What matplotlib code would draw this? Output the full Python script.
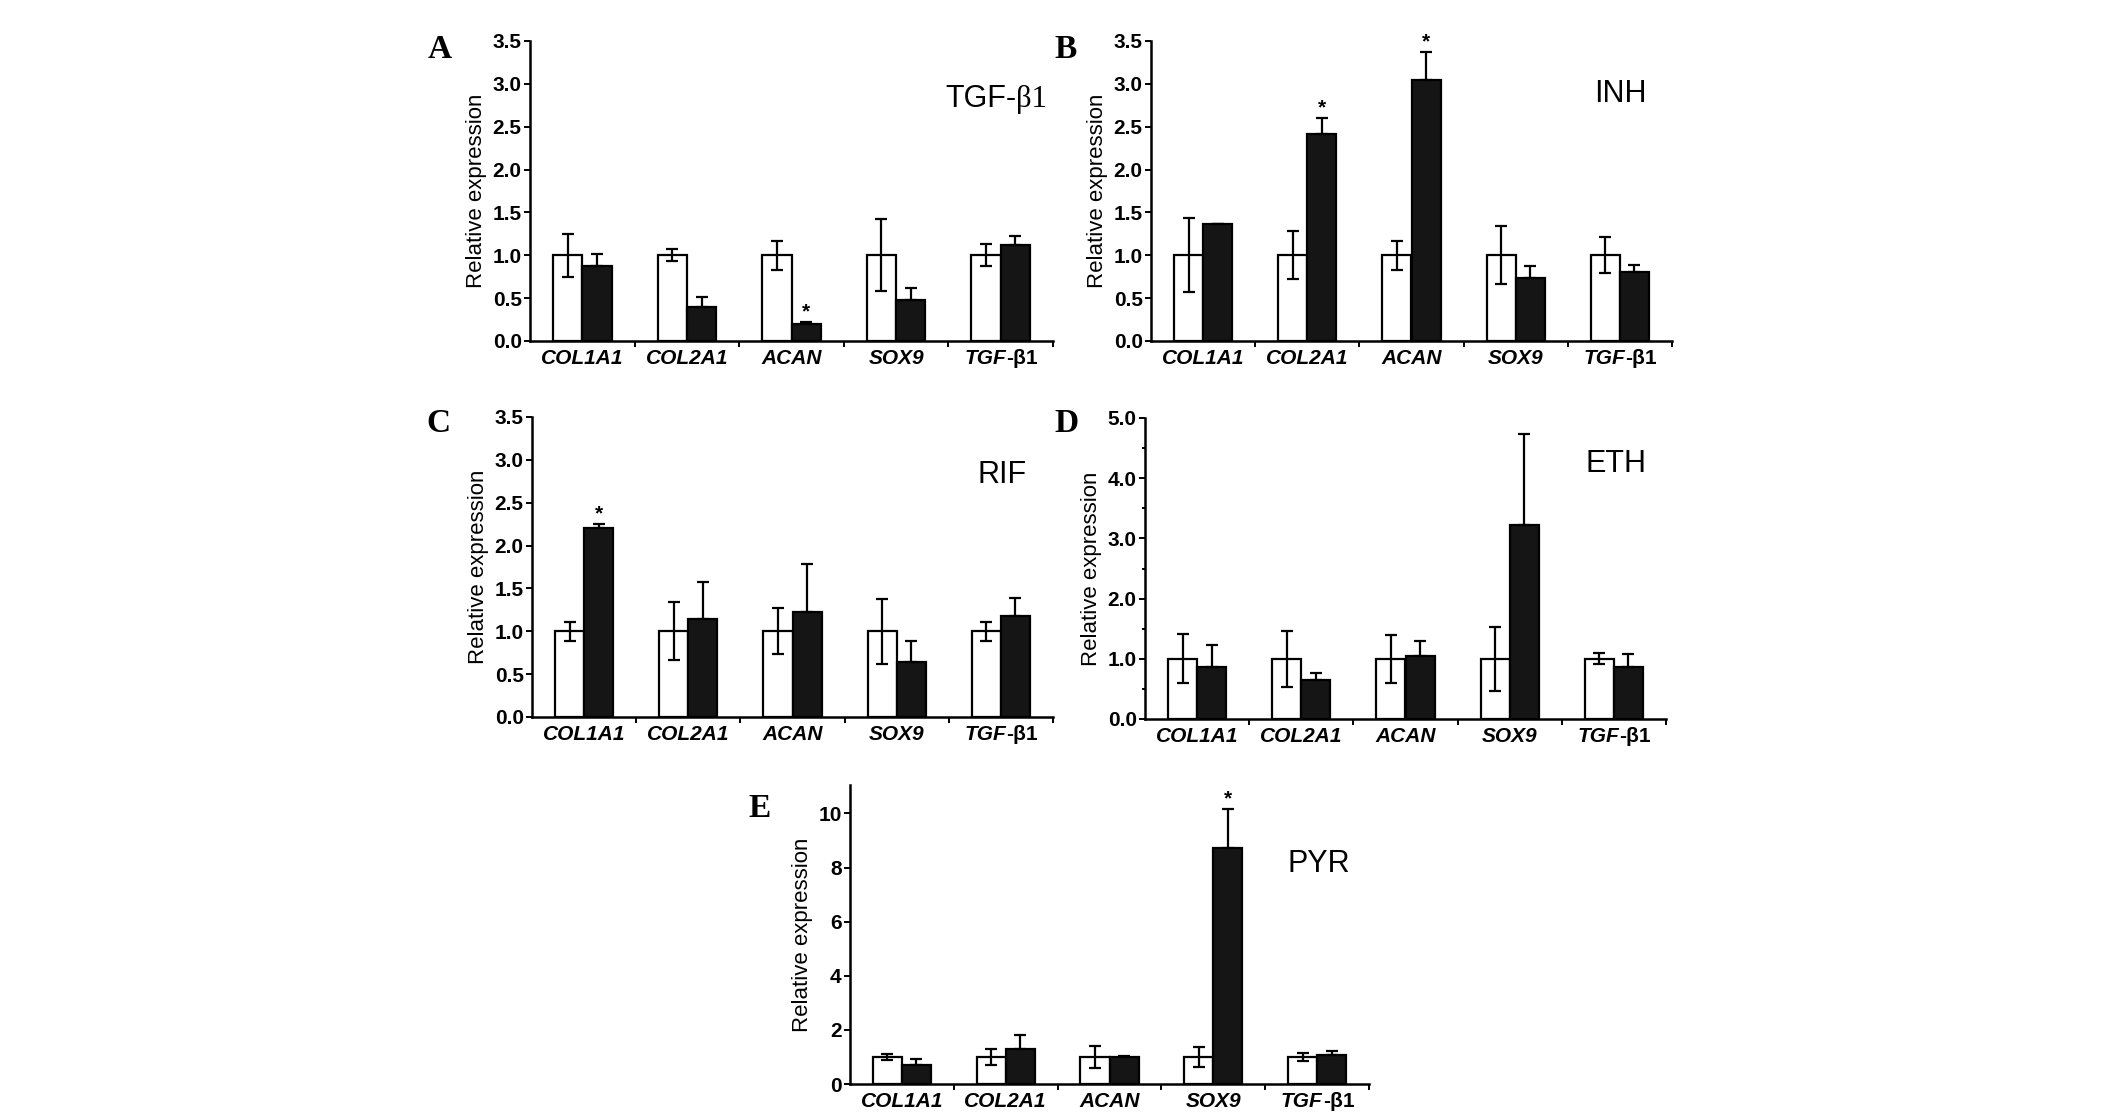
import numpy as np
import matplotlib
matplotlib.use("Agg")
import matplotlib.pyplot as plt
from matplotlib.ticker import MultipleLocator, FormatStrFormatter

plt.rcParams['font.family'] = ['Liberation Sans', 'DejaVu Sans']

genes = ['COL1A1', 'COL2A1', 'ACAN', 'SOX9', 'TGF']
gene_tail = ['', '', '', '', '-β1']

# control (white) and treated (black) means with SD
tgf_ctrl = [1.0, 1.0, 1.0, 1.0, 1.0]
tgf_ctrl_err = [0.25, 0.07, 0.17, 0.42, 0.13]
tgf_trt = [0.87, 0.40, 0.20, 0.48, 1.12]
tgf_trt_err = [0.14, 0.11, 0.02, 0.14, 0.11]
tgf_stars = [2]

inh_ctrl = [1.0, 1.0, 1.0, 1.0, 1.0]
inh_ctrl_err = [0.43, 0.28, 0.17, 0.34, 0.21]
inh_trt = [1.36, 2.41, 3.04, 0.74, 0.81]
inh_trt_err = [0.01, 0.19, 0.33, 0.14, 0.08]
inh_stars = [1, 2]

rif_ctrl = [1.0, 1.0, 1.0, 1.0, 1.0]
rif_ctrl_err = [0.11, 0.34, 0.27, 0.38, 0.11]
rif_trt = [2.21, 1.14, 1.23, 0.64, 1.18]
rif_trt_err = [0.04, 0.44, 0.55, 0.25, 0.21]
rif_stars = [0]

eth_ctrl = [1.0, 1.0, 1.0, 1.0, 1.0]
eth_ctrl_err = [0.41, 0.47, 0.40, 0.53, 0.09]
eth_trt = [0.86, 0.65, 1.04, 3.22, 0.87]
eth_trt_err = [0.37, 0.12, 0.25, 1.52, 0.21]
eth_stars = []

pyr_ctrl = [1.0, 1.0, 1.0, 1.0, 1.0]
pyr_ctrl_err = [0.10, 0.28, 0.41, 0.38, 0.14]
pyr_trt = [0.70, 1.28, 0.98, 8.73, 1.08]
pyr_trt_err = [0.21, 0.52, 0.07, 1.43, 0.14]
pyr_stars = [3]

W, H = 2126, 1116
fig = plt.figure(figsize=(W / 100, H / 100), dpi=100)


def px_axes(left, right, top, bottom):
    return fig.add_axes([left / W, 1 - bottom / H, (right - left) / W, (bottom - top) / H])


def gene_labels(ax, x):
    tr = ax.get_xaxis_transform()
    for i, (g, tail) in enumerate(zip(genes, gene_tail)):
        if not tail:
            ax.annotate(g, xy=(x[i], 0), xycoords=tr, xytext=(0, -6),
                        textcoords='offset points', ha='center', va='top',
                        fontsize=15, fontweight='bold', fontstyle='italic')
        else:
            t1 = ax.annotate(g, xy=(x[i], 0), xycoords=tr, xytext=(4, -6),
                             textcoords='offset points', ha='right', va='top',
                             fontsize=15, fontweight='bold', fontstyle='italic')
            ax.annotate(tail, xy=(1, 0), xycoords=(t1, tr), xytext=(0, -6),
                        textcoords='offset points', ha='left', va='top',
                        fontsize=15, fontweight='bold')


def draw_panel(ax, ctrl, ctrl_err, trt, trt_err, stars, ymax, major, minor, fmt):
    x = np.arange(len(genes))
    w = 0.28
    ek = dict(ecolor='black', elinewidth=1.6, capsize=4, capthick=1.6)
    ax.bar(x - w / 2, ctrl, w, yerr=ctrl_err, color='white', edgecolor='black',
           linewidth=1.6, error_kw=ek, zorder=2)
    # lower half of the treated error bar is hidden inside the black bar
    ax.bar(x + w / 2, trt, w, yerr=[np.zeros(len(trt)), trt_err], color='#151515',
           edgecolor='black', linewidth=1.6, error_kw=ek, zorder=2)
    for i in stars:
        ax.annotate('*', xy=(x[i] + w / 2, trt[i] + trt_err[i]), xytext=(0, 0.5),
                    textcoords='offset points', ha='center', va='bottom',
                    fontsize=15, fontweight='bold')
    ax.set_xlim(-0.5, len(genes) - 0.5)
    ax.set_ylim(0, ymax)
    ax.set_xticks(x)
    ax.set_xticklabels([])
    gene_labels(ax, x)
    ax.set_xticks(np.arange(len(genes)) + 0.5, minor=True)
    ax.tick_params(axis='x', which='major', length=0)
    ax.tick_params(axis='x', which='minor', length=4, width=1.4, direction='out')
    ax.yaxis.set_major_locator(MultipleLocator(major))
    if minor:
        ax.yaxis.set_minor_locator(MultipleLocator(minor))
        ax.tick_params(axis='y', which='minor', length=2.5, width=1.4)
    ax.yaxis.set_major_formatter(FormatStrFormatter(fmt))
    ax.tick_params(axis='y', which='major', length=4, width=1.4, pad=2, labelsize=15)
    for lab in ax.get_yticklabels():
        lab.set_fontweight('bold')
    for s in ['top', 'right']:
        ax.spines[s].set_visible(False)
    for s in ['left', 'bottom']:
        ax.spines[s].set_linewidth(1.8)
    ax.set_ylabel('Relative expression', fontsize=16, labelpad=4)


def panel_letter(x, y, s):
    fig.text(x / W, 1 - y / H, s, fontsize=24, fontweight='bold',
             family='Liberation Serif', ha='left', va='baseline')


def panel_title(x, y, s, serif_tail=''):
    t = fig.text(x / W, 1 - y / H, s, fontsize=22, ha='left', va='baseline')
    if serif_tail:
        fig.add_artist(plt.Annotation(serif_tail, xy=(1, 1 - y / H),
                                      xycoords=(t, 'figure fraction'),
                                      fontsize=22, family='Liberation Serif',
                                      ha='left', va='baseline'))


ax_a = px_axes(530, 1053, 41, 341)
draw_panel(ax_a, tgf_ctrl, tgf_ctrl_err, tgf_trt, tgf_trt_err, tgf_stars, 3.5, 0.5, None, '%.1f')
ax_b = px_axes(1151, 1672, 41, 341)
draw_panel(ax_b, inh_ctrl, inh_ctrl_err, inh_trt, inh_trt_err, inh_stars, 3.5, 0.5, None, '%.1f')
ax_c = px_axes(532, 1053, 417, 717)
draw_panel(ax_c, rif_ctrl, rif_ctrl_err, rif_trt, rif_trt_err, rif_stars, 3.5, 0.5, None, '%.1f')
ax_d = px_axes(1145, 1666, 418, 719)
draw_panel(ax_d, eth_ctrl, eth_ctrl_err, eth_trt, eth_trt_err, eth_stars, 5.0, 1.0, 0.5, '%.1f')
ax_e = px_axes(850, 1369, 785, 1084)
draw_panel(ax_e, pyr_ctrl, pyr_ctrl_err, pyr_trt, pyr_trt_err, pyr_stars, 11.05, 2, None, '%d')

panel_letter(428, 58, 'A')
panel_letter(1054, 58, 'B')
panel_letter(426, 432, 'C')
panel_letter(1054, 432, 'D')
panel_letter(748, 817, 'E')

panel_title(945, 107, 'TGF-', 'β1')
panel_title(1594, 102, 'INH')
panel_title(977, 483, 'RIF')
panel_title(1585, 472, 'ETH')
panel_title(1288, 872, 'PYR')

fig.savefig('out.png', dpi=100)
